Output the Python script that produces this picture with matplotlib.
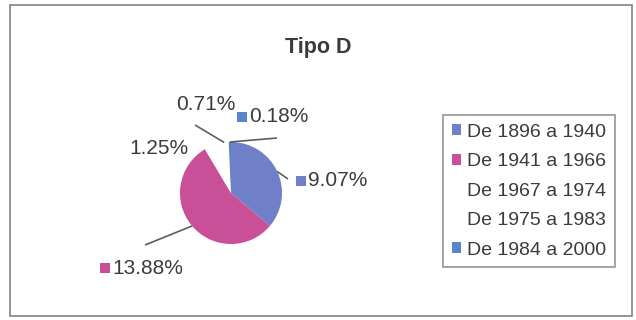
import numpy as np
import matplotlib.pyplot as plt
from matplotlib.patches import Rectangle

plt.rcParams['font.family'] = ['Liberation Sans', 'DejaVu Sans']

# Data
periods = ['De 1896 a 1940', 'De 1941 a 1966', 'De 1967 a 1974',
           'De 1975 a 1983', 'De 1984 a 2000']
shares = [9.07, 13.88, 1.25, 0.71, 0.18]
slice_colors = ['#6F80C9', '#C94F99', '#FFFFFF', '#FFFFFF', '#5886CC']

W, H = 636, 320
text_color = '#3b3b3b'
line_color = '#5e5e5e'


def Y(y):
    # pixel rows run downward, the axes run upward
    return H - y


fig = plt.figure(figsize=(W / 100, H / 100), dpi=100)
ax = fig.add_axes([0, 0, 1, 1])

cx, cy, r = 231, 193, 51
wedges, _ = ax.pie(shares, colors=slice_colors, startangle=90, counterclock=False,
                   center=(cx, Y(cy)), radius=r, frame=True,
                   wedgeprops=dict(linewidth=0))

ax.set_xlim(0, W)
ax.set_ylim(0, H)
ax.set_aspect('equal')
ax.axis('off')

# mid angle of each slice, to anchor the leader lines on the rim
fracs = np.array(shares) / sum(shares)
ends = 90 - 360 * np.cumsum(fracs)
starts = ends + 360 * fracs
mids = np.radians((starts + ends) / 2)

# label layout: (text x, text y, marker?, leader end or None)
label_pos = [
    (308, 181, True, (288, 179)),
    (112, 268, True, (145, 245)),
    (129, 149, False, None),
    (176, 104, False, (195, 125)),
    (249, 117, True, (277, 138)),
]

for i, (tx, ty, has_marker, lead) in enumerate(label_pos):
    if lead is not None:
        sx = cx + r * np.cos(mids[i])
        sy = Y(cy) + r * np.sin(mids[i])
        ax.plot([sx, lead[0]], [sy, Y(lead[1])], color=line_color, lw=1.2,
                solid_capstyle='butt')
    if has_marker:
        ax.add_patch(Rectangle((tx - 12, Y(ty) - 5), 10, 10,
                               facecolor=slice_colors[i], edgecolor='none'))
    ax.text(tx, Y(ty), f'{shares[i]:.2f}%', fontsize=15, color=text_color,
            ha='left', va='center')

ax.text(W / 2, Y(48), 'Tipo D', fontsize=15.5, fontweight='bold',
        color=text_color, ha='center', va='center')

# chart border
ax.add_patch(Rectangle((10, Y(316)), 622, 311, facecolor='none',
                       edgecolor='#8a8a8a', lw=1.3))

leg = ax.legend(wedges, periods, loc='upper left',
                bbox_to_anchor=(443 / W, 1 - 115 / H), frameon=True,
                fancybox=False, edgecolor='#7a7a7a', fontsize=14,
                handlelength=0.5, handleheight=0.5, handletextpad=0.3,
                labelspacing=0.64, borderpad=0.45, borderaxespad=0)
leg.get_frame().set_linewidth(1.2)
for t in leg.get_texts():
    t.set_color(text_color)

fig.savefig('out.png', dpi=100)
